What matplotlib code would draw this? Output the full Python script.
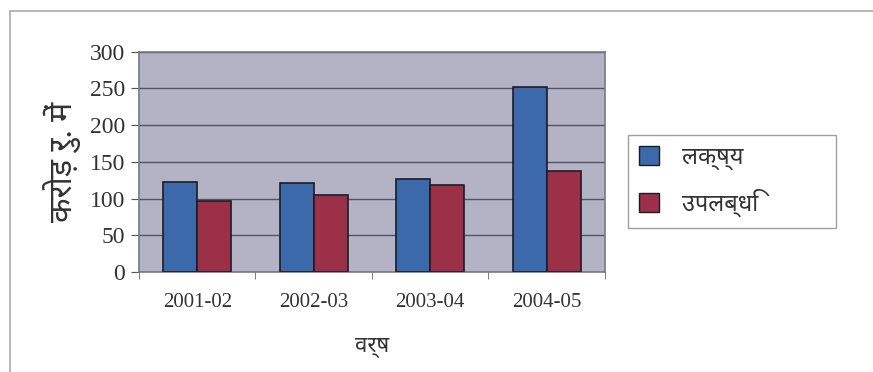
import matplotlib.pyplot as plt
import numpy as np
from matplotlib.lines import Line2D
from matplotlib.patches import Patch

years = ['2001-02', '2002-03', '2003-04', '2004-05']
target = [122, 121, 127, 252]
achieved = [97, 105, 119, 137]
series_names = ['लक्ष्य', 'उपलब्धि']

hindi = ['Noto Sans', 'DejaVu Sans']
serif = 'Liberation Serif'

fig = plt.figure(figsize=(8.73, 3.72), dpi=100)
ax = fig.add_axes([0.1592, 0.2688, 0.5338, 0.592])
ax.set_facecolor('#b4b3c6')

x = np.arange(len(years))
w = 0.29
ax.bar(x - w / 2, target, w, color='#3b69aa', edgecolor='#1c1c28', linewidth=1.2, zorder=3)
ax.bar(x + w / 2, achieved, w, color='#9c3049', edgecolor='#1c1c28', linewidth=1.2, zorder=3)

ax.set_xlim(-0.5, len(years) - 0.5)
ax.set_ylim(0, 300)
ax.set_yticks(range(0, 301, 50))
ax.set_xticks(x)
ax.set_xticklabels(years, fontfamily=serif, fontsize=15)
ax.set_xticks(np.arange(-0.5, len(years)), minor=True)
ax.tick_params(axis='x', which='major', length=0, pad=15)
ax.tick_params(axis='x', which='minor', length=5, color='#666666')
ax.tick_params(axis='y', length=6, color='#555555', pad=4)
for lab in ax.get_yticklabels():
    lab.set_fontfamily(serif)
    lab.set_fontsize(17)
    lab.set_color('#333333')
for lab in ax.get_xticklabels():
    lab.set_color('#333333')

ax.yaxis.grid(True, color='#555560', linewidth=1.0, zorder=1)
for s in ax.spines.values():
    s.set_color('#777788')
    s.set_linewidth(1.2)

ax.set_ylabel('करोड़ रु. में', fontfamily=hindi, fontsize=23, color='#333333', labelpad=6)
ax.set_xlabel('वर्ष', fontfamily=hindi, fontsize=16, color='#333333', labelpad=18)

handles = [Patch(facecolor='#3b69aa', edgecolor='#1c1c28'),
           Patch(facecolor='#9c3049', edgecolor='#1c1c28')]
leg = fig.legend(handles, series_names, loc='upper left',
                 bbox_to_anchor=(0.7194, 0.4005, 0.2383, 0.2366), mode='expand',
                 borderaxespad=0, prop={'family': hindi, 'size': 17}, frameon=True,
                 fancybox=False, borderpad=0.45, labelspacing=0.8, handlelength=0.85,
                 handleheight=0.85, handletextpad=1.0)
leg.get_frame().set_edgecolor('#888888')
leg.get_frame().set_linewidth(1.0)
for t in leg.get_texts():
    t.set_color('#333333')

# frame lines along the top and left of the page
fig.add_artist(Line2D([0.011, 1.0], [0.970, 0.970], color='#aaaaaa', linewidth=1.2))
fig.add_artist(Line2D([0.011, 0.011], [0.0, 0.970], color='#aaaaaa', linewidth=1.2))

fig.savefig('out.png', dpi=100)
